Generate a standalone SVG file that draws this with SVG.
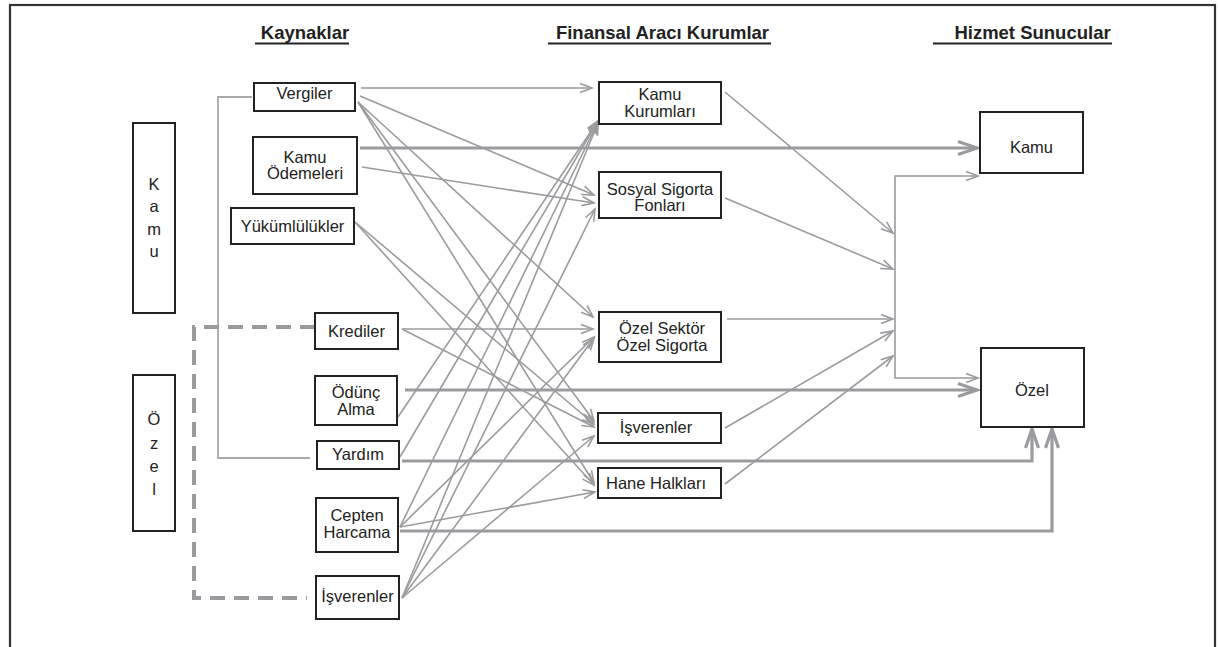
<svg xmlns="http://www.w3.org/2000/svg" width="1218" height="647" viewBox="0 0 1218 647">
<defs>
<style>
.box{fill:#fff;stroke:#222;stroke-width:2}
.t{font-family:"Liberation Sans",Arial,sans-serif;font-size:16.5px;fill:#222;text-anchor:middle}
.h{font-family:"Liberation Sans",Arial,sans-serif;font-size:18.5px;font-weight:bold;fill:#222;text-anchor:middle}
.ul{stroke:#222;stroke-width:2}
.c{fill:none;stroke:#9a9b9f;stroke-width:1.6;marker-end:url(#a)}
.k{fill:none;stroke:#9a9b9f;stroke-width:3.2;marker-end:url(#b)}
</style>
<marker id="a" markerUnits="userSpaceOnUse" markerWidth="14" markerHeight="12" refX="12" refY="5" orient="auto" overflow="visible">
<path d="M0,0.5 L12,5 L0,9.5" fill="none" stroke="#9a9b9f" stroke-width="1.6"/>
</marker>
<marker id="b" markerUnits="userSpaceOnUse" markerWidth="22" markerHeight="16" refX="19" refY="7" orient="auto" overflow="visible">
<path d="M0,0.5 L19,7 L0,13.5" fill="none" stroke="#9a9b9f" stroke-width="3.2"/>
</marker>
</defs>
<rect x="0" y="0" width="1218" height="647" fill="#fff"/>
<rect x="10" y="5" width="1205" height="700" fill="none" stroke="#333" stroke-width="2.2"/>

<g id="headings">
<text class="h" x="305" y="38.5">Kaynaklar</text>
<line class="ul" x1="255" y1="43.5" x2="349" y2="43.5"/>
<text class="h" x="662.5" y="38.5">Finansal Aracı Kurumlar</text>
<line class="ul" x1="548" y1="43.5" x2="771" y2="43.5"/>
<text class="h" x="1032.5" y="38.5">Hizmet Sunucular</text>
<line class="ul" x1="933" y1="43.5" x2="1112" y2="43.5"/>
</g>

<g id="connectors">
<path d="M252,97 L218,97 L218,458 L310,458" fill="none" stroke="#a8a9ad" stroke-width="1.8"/>
<path d="M315,327 L194,327 L194,598 L307,598" fill="none" stroke="#9a9b9f" stroke-width="4" stroke-dasharray="15 9"/>
<path class="c" d="M361,88 L592,88"/>
<path class="c" d="M360,96 L594,195"/>
<path class="c" d="M358,102 L593,317"/>
<path class="c" d="M358,102 L594,421"/>
<path class="c" d="M358,102 L594,483"/>
<path class="c" d="M362,167 L594,203"/>
<path class="c" d="M355,222 L594,424"/>
<path class="c" d="M355,222 L594,485"/>
<path class="c" d="M402,329 L593,329"/>
<path class="c" d="M402,329 L594,427"/>
<path class="c" d="M398,417 L598,121"/>
<path class="c" d="M400,457 L598,121"/>
<path class="c" d="M400,527 L598,122"/>
<path class="c" d="M400,527 L594,337"/>
<path class="c" d="M400,527 L595,492"/>
<path class="c" d="M402,598 L598,123"/>
<path class="c" d="M402,598 L595,209"/>
<path class="c" d="M402,598 L594,338"/>
<path class="c" d="M402,598 L594,436"/>
<path class="c" d="M725,92 L893,233"/>
<path class="c" d="M725,198 L893,269"/>
<path class="c" d="M727,319 L893,319"/>
<path class="c" d="M725,428 L893,331"/>
<path class="c" d="M725,484 L893,356"/>
<path class="c" d="M895,277 L895,176 L978,176"/>
<path class="c" d="M895,277 L895,378 L978,378"/>
<path class="k" d="M360,148 L977,148"/>
<path class="k" d="M405,390 L977,390"/>
<path class="k" d="M402,461 L1032,461 L1032,429"/>
<path class="k" d="M400,531 L1052,531 L1052,429"/>
</g>

<g id="cat-kamu">
<rect class="box" x="133" y="123" width="42" height="190"/>
<text class="t" x="154" y="190">K</text>
<text class="t" x="154" y="212">a</text>
<text class="t" x="154" y="235">m</text>
<text class="t" x="154" y="257">u</text>
</g>
<g id="cat-ozel">
<rect class="box" x="133" y="375" width="42" height="156"/>
<text class="t" x="154" y="425">Ö</text>
<text class="t" x="154" y="449">z</text>
<text class="t" x="154" y="472">e</text>
<text class="t" x="154" y="495">l</text>
</g>

<g id="src-vergiler">
<rect class="box" x="254" y="83" width="101" height="28"/>
<text class="t" x="304.5" y="99">Vergiler</text>
</g>
<g id="src-kamu-odemeleri">
<rect class="box" x="253" y="137" width="104" height="57"/>
<text class="t" x="305" y="163">Kamu</text>
<text class="t" x="305" y="179">Ödemeleri</text>
</g>
<g id="src-yukumlulukler">
<rect class="box" x="231" y="208" width="123" height="36"/>
<text class="t" x="292.5" y="232">Yükümlülükler</text>
</g>
<g id="src-krediler">
<rect class="box" x="315" y="313" width="83" height="36"/>
<text class="t" x="356.5" y="337">Krediler</text>
</g>
<g id="src-odunc-alma">
<rect class="box" x="315" y="376" width="82" height="49"/>
<text class="t" x="356" y="398">Ödünç</text>
<text class="t" x="356" y="415">Alma</text>
</g>
<g id="src-yardim">
<rect class="box" x="317" y="441" width="82" height="28"/>
<text class="t" x="358" y="460">Yardım</text>
</g>
<g id="src-cepten-harcama">
<rect class="box" x="316" y="498" width="82" height="54"/>
<text class="t" x="357" y="521">Cepten</text>
<text class="t" x="357" y="538">Harcama</text>
</g>
<g id="src-isverenler">
<rect class="box" x="316" y="576" width="83" height="43"/>
<text class="t" x="357.5" y="602">İşverenler</text>
</g>

<g id="fin-kamu-kurumlari">
<rect class="box" x="599" y="82" width="122" height="42"/>
<text class="t" x="660" y="99.5">Kamu</text>
<text class="t" x="660" y="116.5">Kurumları</text>
</g>
<g id="fin-sosyal-sigorta">
<rect class="box" x="599" y="172" width="122" height="46"/>
<text class="t" x="660" y="195">Sosyal Sigorta</text>
<text class="t" x="660" y="211">Fonları</text>
</g>
<g id="fin-ozel-sigorta">
<rect class="box" x="599" y="312" width="122" height="50"/>
<text class="t" x="662" y="334">Özel Sektör</text>
<text class="t" x="662" y="351">Özel Sigorta</text>
</g>
<g id="fin-isverenler">
<rect class="box" x="598" y="413" width="123" height="30"/>
<text class="t" x="656" y="433">İşverenler</text>
</g>
<g id="fin-hane-halklari">
<rect class="box" x="598" y="468" width="123" height="30"/>
<text class="t" x="656" y="489">Hane Halkları</text>
</g>

<g id="prov-kamu">
<rect class="box" x="980" y="112" width="103" height="61"/>
<text class="t" x="1031.5" y="153">Kamu</text>
</g>
<g id="prov-ozel">
<rect class="box" x="981" y="348" width="103" height="79"/>
<text class="t" x="1032" y="396">Özel</text>
</g>
</svg>
